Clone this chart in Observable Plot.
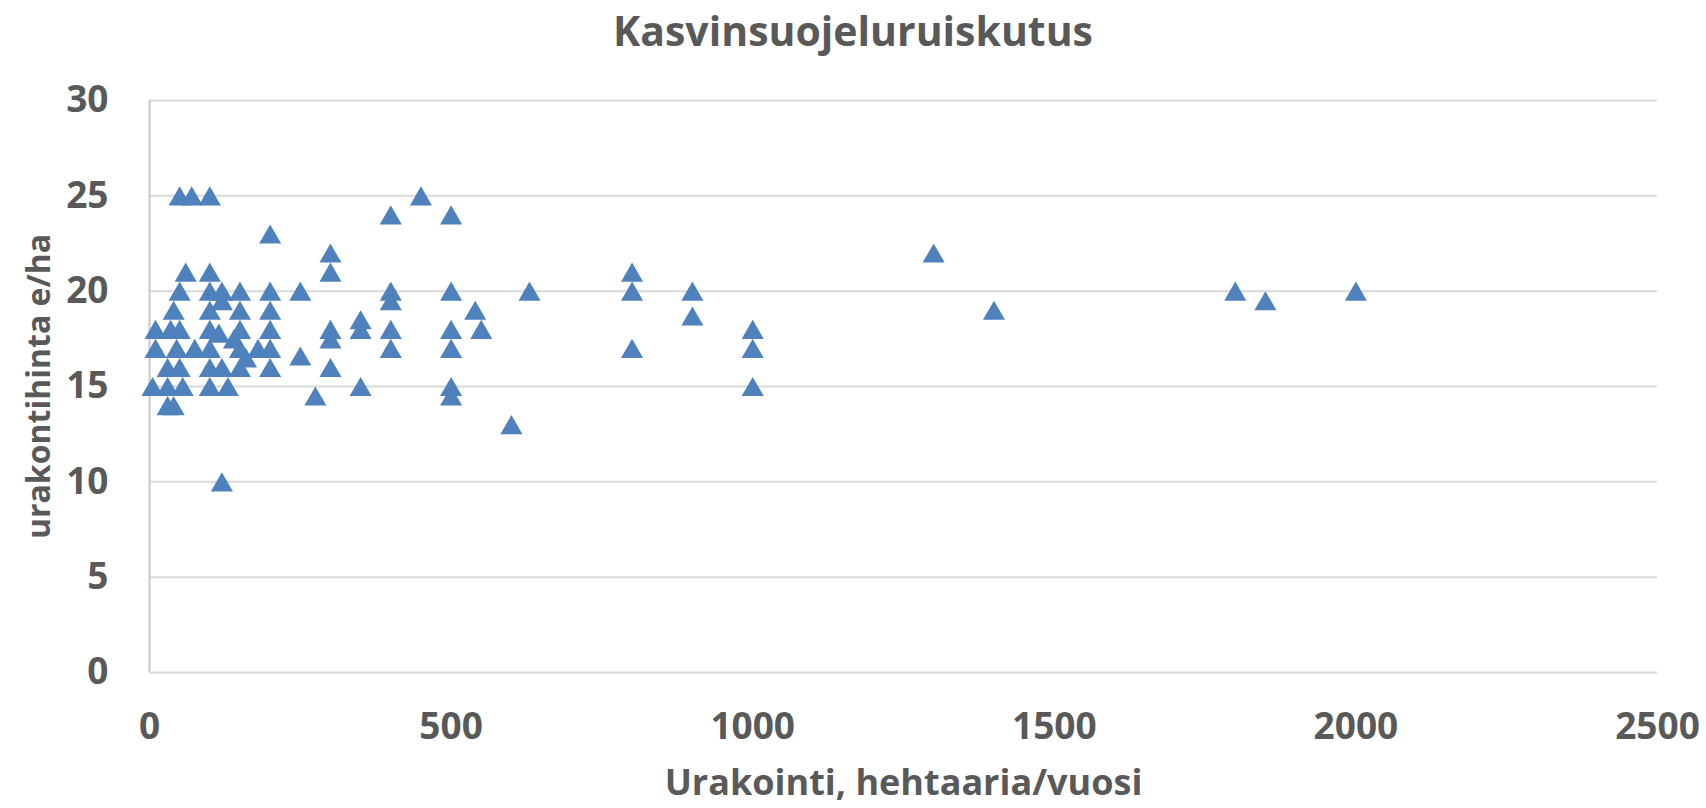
<!DOCTYPE html>
<html>
<head>
<meta charset="utf-8">
<script src="https://cdn.jsdelivr.net/npm/d3@7"></script>
<script src="https://cdn.jsdelivr.net/npm/@observablehq/plot@0.6"></script>
<style>
  html, body { margin: 0; padding: 0; background: #fff; }
  #title { height: 60px; line-height: 60px; text-align: center; font-family: "Open Sans", sans-serif; font-weight: bold; font-size: 41px; color: #595959; width: 1706px; }
  #chart svg { display: block; }
</style>
</head>
<body>
<div id="title"></div>
<div id="chart"></div>
<script>
const titleText = "Kasvinsuojeluruiskutus";
const xLabel = "Urakointi, hehtaaria/vuosi";
const yLabel = "urakontihinta e/ha";
const xTicks = [0, 500, 1000, 1500, 2000, 2500];
const yTicks = [0, 5, 10, 15, 20, 25, 30];

// hectares per year
const hectares = [
  5, 10, 10, 30, 30, 30, 35, 40, 40, 45,
  50, 50, 50, 50, 55, 60, 70, 75,
  100, 100, 100, 100, 100, 100, 100, 100,
  115, 120, 120, 120, 120, 130, 140,
  150, 150, 150, 150, 150, 160, 180,
  200, 200, 200, 200, 200, 200,
  250, 250, 275,
  300, 300, 300, 300, 300,
  350, 350, 350,
  400, 400, 400, 400, 400, 450,
  500, 500, 500, 500, 500, 500,
  540, 550, 600, 630,
  800, 800, 800, 900, 900,
  1000, 1000, 1000,
  1300, 1400, 1800, 1850, 2000
];
// contract price e/ha
const prices = [
  15, 18, 17, 16, 15, 14, 18, 19, 14, 17,
  25, 20, 18, 16, 15, 21, 25, 17,
  25, 21, 20, 19, 18, 17, 16, 15,
  17.8, 20, 19.5, 16, 10, 15, 17.5,
  20, 19, 18, 17, 16, 16.5, 17,
  23, 20, 19, 18, 17, 16,
  20, 16.6, 14.5,
  22, 21, 18, 17.5, 16,
  18.5, 18, 15,
  24, 20, 19.5, 18, 17, 25,
  24, 20, 18, 17, 15, 14.5,
  19, 18, 13, 20,
  21, 20, 17, 20, 18.7,
  18, 17, 15,
  22, 19, 20, 19.5, 20
];

const data = hectares.map((h, i) => ({h, p: prices[i]}));
document.getElementById("title").textContent = titleText;

const fmt = d => String(d);

const chart = Plot.plot({
  width: 1706,
  height: 748,
  marginTop: 40,
  marginBottom: 136,
  marginLeft: 149,
  marginRight: 49,
  style: {fontFamily: "Open Sans, sans-serif", color: "#595959", background: "#fff"},
  x: {domain: [0, 2500], labelArrow: "none"},
  y: {domain: [0, 30], labelArrow: "none"},
  marks: [
    Plot.gridY(yTicks, {stroke: "#d9d9d9", strokeOpacity: 1, strokeWidth: 2}),
    Plot.ruleX([0], {stroke: "#c8c8c8", strokeWidth: 2}),
    Plot.axisX(xTicks, {tickSize: 0, tickPadding: 40, tickFormat: fmt, fontSize: 37, fontWeight: "bold", label: null}),
    Plot.axisX({ticks: [], tickSize: 0, label: xLabel, labelArrow: "none", labelAnchor: "center", labelOffset: 122, fontSize: 36, fontWeight: "bold"}),
    Plot.axisY(yTicks, {tickSize: 0, tickPadding: 41, tickFormat: fmt, fontSize: 37, fontWeight: "bold", label: null}),
    Plot.axisY({ticks: [], tickSize: 0, label: yLabel, labelArrow: "none", labelAnchor: "center", labelOffset: 122, fontSize: 32, fontWeight: "bold"}),
    Plot.dot(data, {x: "h", y: "p", symbol: "triangle", r: 8.2, dy: 3.2, fill: "#4f81bd", stroke: "none"})
  ]
});
document.getElementById("chart").appendChild(chart);
</script>
</body>
</html>
